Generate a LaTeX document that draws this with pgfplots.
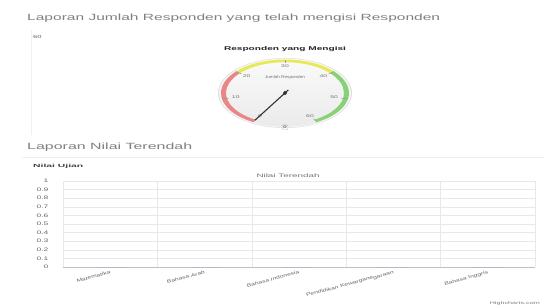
\documentclass[border=0pt]{standalone}
\usepackage{pgfplots}
\pgfplotsset{compat=1.18}
\usepackage{graphicx}
\usepackage{fontspec}
\setmainfont{Liberation Sans}
\usetikzlibrary{calc}
\definecolor{hcred}{HTML}{DF5353}
\definecolor{hcyellow}{HTML}{DDDF0D}
\definecolor{hcgreen}{HTML}{55BF3B}
\definecolor{lbl}{HTML}{666666}
\newcommand{\st}[1]{\scalebox{1.7}[1]{#1}}
\newcommand{\sx}[1]{\scalebox{1.5}[1]{#1}}
% gauge band: from value #1 to #2 (scale 0..60 on -150..150 degrees)
\newcommand{\gband}[3]{%
  \fill[#3] ($(axis cs:0,0)+({240-5*#1}:64pt and 33.5pt)$)
    arc[start angle={240-5*#1}, end angle={240-5*#2}, x radius=64pt, y radius=33.5pt]
    -- ($(axis cs:0,0)+({240-5*#2}:59pt and 30.8pt)$)
    arc[start angle={240-5*#2}, end angle={240-5*#1}, x radius=59pt, y radius=30.8pt] -- cycle;}
\begin{document}
\begin{tikzpicture}
\fill[white] (0pt,0pt) rectangle (544pt,-306pt);
\path[use as bounding box] (0pt,0pt) rectangle (544pt,-306pt);
% panels
\draw[black!6] (31pt,-30pt) -- (31pt,-135pt);
\draw[black!6] (22pt,-157pt) -- (544pt,-157pt);
% titles
\node[anchor=base west, inner sep=0, text=black!50] at (27pt,-20pt)
  {\resizebox{413pt}{\height}{\fontsize{9}{11}\selectfont Laporan Jumlah Responden yang telah mengisi Responden}};
\node[anchor=base west, inner sep=0, text=black!50] at (27pt,-149pt)
  {\resizebox{165pt}{\height}{\fontsize{9}{11}\selectfont Laporan Nilai Terendah}};
\node[anchor=base west, inner sep=0, text=black!60] at (33pt,-38pt)
  {\st{\fontsize{4.5}{5}\selectfont 60}};
\node[anchor=base west, inner sep=0, text=black!75] at (33pt,-167pt)
  {\resizebox{50pt}{\height}{\fontsize{4.5}{5}\selectfont\bfseries Nilai Ujian}};
% gauge title
\node[anchor=base, inner sep=0, text=black!85] at (285pt,-50pt)
  {\resizebox{122pt}{\height}{\fontsize{5.5}{6}\selectfont\bfseries Responden yang Mengisi}};
% gauge
\begin{axis}[at={(285pt,-93pt)}, anchor=center, scale only axis, width=134pt, height=70pt,
  xmin=-1, xmax=1, ymin=-1, ymax=1, hide axis, clip=false]
  \fill[black!12] (axis cs:0,0) ellipse [x radius=67pt, y radius=35pt];
  \fill[black!2] (axis cs:0,0) ellipse [x radius=65.8pt, y radius=34.4pt];
  \shade[top color=black!2, bottom color=black!8] (axis cs:0,0) ellipse [x radius=64.6pt, y radius=33.8pt];
  \gband{0}{20}{hcred!70}
  \gband{20}{40}{hcyellow!70}
  \gband{40}{60}{hcgreen!70}
  \pgfplotsinvokeforeach{0,10,20,30,40,50,60}{
    \draw[black!40, line width=0.5pt] ($(axis cs:0,0)+({240-5*#1}:64pt and 33.5pt)$) -- ($(axis cs:0,0)+({240-5*#1}:57pt and 29.8pt)$);
    \node[text=black!55, inner sep=0] at ($(axis cs:0,0)+({240-5*#1}:50pt and 26.5pt)$) {\st{\fontsize{4}{5}\selectfont #1}};
  }
  \node[text=black!55, inner sep=0] at (axis cs:0,0.43) {\resizebox{40pt}{\height}{\fontsize{4}{5}\selectfont Jumlah Responden}};
  \node[draw=black!25, rounded corners=1pt, inner sep=1pt, text=black!60, fill=white] at (axis cs:0,-0.98) {\st{\fontsize{4}{5}\selectfont\bfseries 0}};
  % needle pointing at value 0
  \addplot[draw=black!80, line width=1.1pt] coordinates {(-0.45,-0.78) (0.05,0.087)};
  \addplot[only marks, mark=*, mark size=1.8pt, black!80] coordinates {(0,0)};
\end{axis}
% bar chart
\node[anchor=base, inner sep=0, text=black!55] at (288pt,-177pt)
  {\resizebox{63pt}{\height}{\fontsize{5}{6}\selectfont Nilai Terendah}};
\begin{axis}[at={(63pt,-267pt)}, anchor=south west, scale only axis, width=472pt, height=86pt,
  xmin=-0.5, xmax=4.5, ymin=0, ymax=1,
  ytick={0,0.1,0.2,0.3,0.4,0.5,0.6,0.7,0.8,0.9,1},
  xtick={0,1,2,3,4},
  xticklabels={\sx{Matematika}, \sx{Bahasa Arab}, \sx{Bahasa Indonesia}, \sx{Pendidikan Kewarganegaraan}, \sx{Bahasa Inggris}},
  minor xtick={-0.5,0.5,1.5,2.5,3.5,4.5},
  xminorgrids, ymajorgrids,
  grid style={black!9, line width=0.4pt},
  minor grid style={black!9, line width=0.4pt},
  axis line style={draw=none}, tick style={draw=none},
  /pgf/number format/assume math mode=true,
  yticklabel={\st{\pgfmathprintnumber[fixed,precision=1]{\tick}}},
  yticklabel style={font=\fontsize{5}{6}\selectfont, text=lbl, xshift=-11pt},
  xticklabel style={font=\fontsize{4.5}{5}\selectfont, text=lbl, rotate=15, anchor=north east, inner sep=1pt, yshift=-2pt},
  ]
  \draw[black!25, line width=0.5pt] (axis cs:-0.5,0) -- (axis cs:4.5,0);
  \addplot[ybar, bar width=30pt, fill=blue!50, draw=none] coordinates {(0,0) (1,0) (2,0) (3,0) (4,0)};
\end{axis}
\node[anchor=base east, inner sep=0, text=black!50] at (540pt,-304pt)
  {\resizebox{50pt}{\height}{\fontsize{4}{5}\selectfont Highcharts.com}};
\end{tikzpicture}
\end{document}
